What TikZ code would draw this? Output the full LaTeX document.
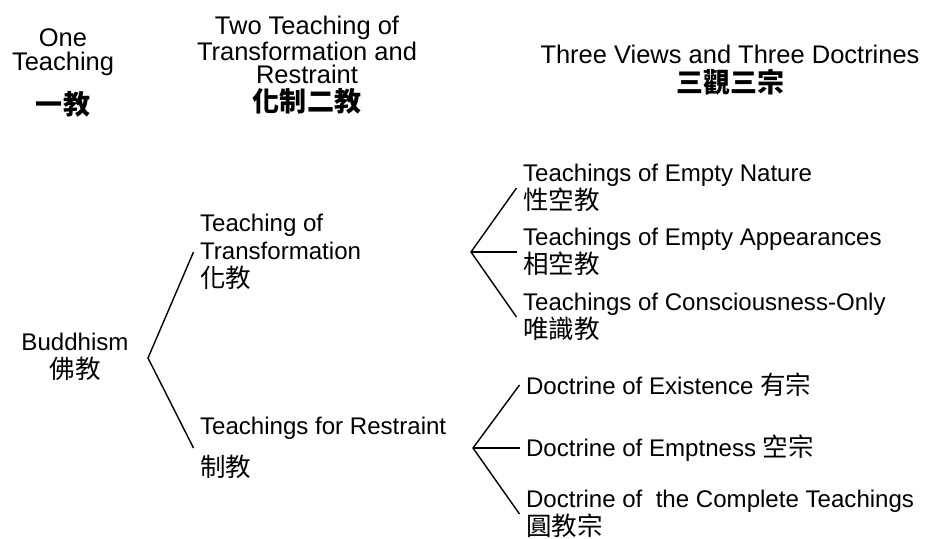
\documentclass[tikz,border=0pt]{standalone}
\usepackage{fontspec}
\setmainfont{Liberation Sans}
\newfontfamily\cjk[Scale=1.06]{Noto Sans CJK TC}
\usetikzlibrary{positioning}

\begin{document}
\begin{tikzpicture}[x=0.02cm, y=-0.02cm, line width=0.8pt,
  head/.style={align=center, font=\fontsize{14.5}{13.5}\selectfont},
  item/.style={align=left, anchor=west, font=\fontsize{13.7}{16}\selectfont}]

  \useasboundingbox (0,0) rectangle (925,538);

  % column headings
  \node[head] (one)   at (63,73)  {One\\Teaching\\[8pt]{\cjk\bfseries 一教}};
  \node[head] (two)   at (307,65) {Two Teaching of\\Transformation and\\Restraint\\[2pt]{\cjk\bfseries 化制二教}};
  \node[head] (three) at (730,70) {Three Views and Three Doctrines\\[3pt]{\cjk\bfseries 三觀三宗}};

  % root
  \node[item, anchor=center, align=center] (bud) at (75,357) {Buddhism\\{\cjk 佛教}};

  % second level
  \node[item] (trans) at (193.5,252) {Teaching of\\Transformation\\{\cjk 化教}};
  \node[item] (restr) at (193.5,448) {Teachings for Restraint\\[8pt]{\cjk 制教}};

  % third level, views
  \node[item] (nature) at (516.5,188) {Teachings of Empty Nature\\{\cjk 性空教}};
  \node[item] (appear) at (516.5,252) {Teachings of Empty Appearances\\{\cjk 相空教}};
  \node[item] (consc)  at (516.5,317) {Teachings of Consciousness-Only\\{\cjk 唯識教}};

  % third level, doctrines
  \node[item] (exist)  at (519.5,385) {Doctrine of Existence {\cjk 有宗}};
  \node[item] (empty)  at (519.5,448) {Doctrine of Emptness {\cjk 空宗}};
  \node[item] (compl)  at (519.5,514) {Doctrine of \ the Complete Teachings\\{\cjk 圓教宗}};

  % forks
  \coordinate (fork1) at (148,358);
  \coordinate (fork2) at (471,252);
  \coordinate (fork3) at (473,448);

  \draw (trans.west) -- (fork1) -- (restr.west);
  \draw (nature.west) -- (fork2) -- (consc.west);
  \draw (fork2) -- (appear.west);
  \draw (exist.west) -- (fork3) -- (compl.west);
  \draw (fork3) -- (empty.west);

\end{tikzpicture}
\end{document}
